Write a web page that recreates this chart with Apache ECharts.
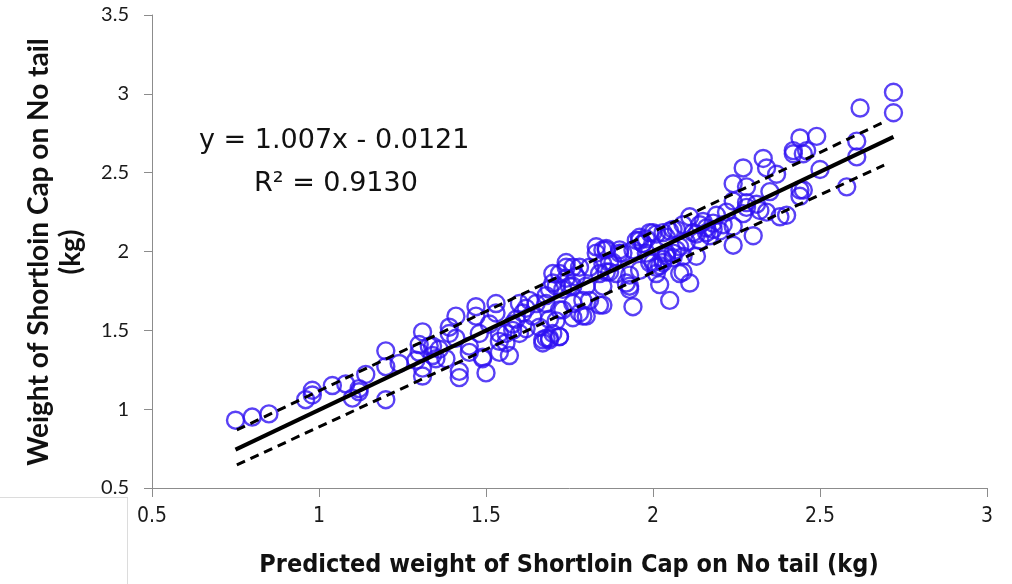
<!DOCTYPE html>
<html>
<head>
<meta charset="utf-8">
<script src="https://cdn.jsdelivr.net/npm/echarts@6/dist/echarts.min.js"></script>
<style>
  html, body { margin: 0; padding: 0; background: #fff; }
  #chart { width: 1012px; height: 584px; }
</style>
</head>
<body>
<div id="chart"></div>
<script>
// Predicted (x) vs measured (y) shortloin cap weight, kg
const predicted = [
  0.75, 0.80, 0.85, 0.96, 0.98, 0.98, 1.04, 1.08, 1.10, 1.12, 1.12, 1.14, 1.20, 1.20, 1.20, 1.24,
  1.31, 1.30, 1.30, 1.34, 1.34, 1.29, 1.31, 1.31, 1.33, 1.36, 1.38, 1.35, 1.39, 1.39, 1.41, 1.41,
  1.42, 1.42, 1.45, 1.45, 1.47, 1.47, 1.48, 1.49, 1.49, 1.50, 1.51, 1.53, 1.53, 1.54, 1.54, 1.54,
  1.56, 1.57, 1.56, 1.58, 1.58, 1.59, 1.60, 1.61, 1.62, 1.63, 1.64, 1.65, 1.66, 1.67, 1.67, 1.60,
  1.62, 1.68, 1.69, 1.69, 1.71, 1.70, 1.71, 1.72, 1.73, 1.74, 1.74, 1.75, 1.76, 1.77, 1.78, 1.79,
  1.81, 1.80, 1.83, 1.83, 1.84, 1.85, 1.85, 1.86, 1.87, 1.88, 1.90, 1.92, 1.93, 1.94, 1.95, 1.96,
  1.97, 1.98, 1.99, 2.00, 2.01, 2.02, 2.03, 2.04, 2.05, 2.06, 2.07, 2.08,
  1.86, 1.74, 1.76, 1.72, 1.70, 1.69, 1.68, 1.73, 1.76, 1.79, 1.78, 1.80, 1.76, 1.72, 1.69, 1.70,
  1.72, 1.68, 1.84, 2.11, 2.09, 1.93, 1.89, 1.93, 1.91, 1.94, 1.96, 1.98, 2.01, 2.03, 2.05, 1.99,
  2.02, 2.04, 2.06, 2.08, 2.10, 2.13, 2.16, 2.18, 2.14, 1.81, 1.85, 1.86,
  2.27, 2.33, 2.34, 2.37, 2.42, 2.45, 2.50, 2.61, 2.24, 2.28, 2.35, 2.24, 2.28, 2.32, 2.34, 2.44,
  2.44, 2.58, 2.38, 2.40, 2.30, 2.24, 2.21, 2.24, 2.19, 2.22, 2.11, 2.15, 2.16, 2.14, 2.13, 2.09,
  2.04, 2.07, 2.09, 2.00, 1.96, 2.01, 1.97, 1.90, 1.87, 1.85, 2.03, 2.06, 2.72, 2.72, 2.62, 2.61,
  2.49, 2.44, 2.42, 2.46, 2.45, 2.28, 2.27, 2.31, 2.20, 2.17, 2.12, 2.18
];
const actual = [
  0.93, 0.95, 0.97, 1.06, 1.09, 1.12, 1.15, 1.16, 1.07, 1.11, 1.13, 1.22, 1.37, 1.27, 1.06, 1.29,
  1.49, 1.41, 1.36, 1.40, 1.34, 1.31, 1.26, 1.21, 1.40, 1.38, 1.32, 1.32, 1.52, 1.48, 1.59, 1.45,
  1.24, 1.20, 1.40, 1.36, 1.65, 1.59, 1.48, 1.33, 1.32, 1.23, 1.54, 1.67, 1.61, 1.36, 1.48, 1.43,
  1.42, 1.34, 1.48, 1.50, 1.54, 1.57, 1.67, 1.61, 1.64, 1.69, 1.59, 1.67, 1.52, 1.42, 1.44, 1.48,
  1.51, 1.67, 1.45, 1.44, 1.56, 1.86, 1.78, 1.46, 1.63, 1.90, 1.83, 1.78, 1.67, 1.84, 1.90, 1.59,
  1.69, 1.78, 2.03, 1.99, 1.86, 1.78, 1.66, 2.02, 1.87, 1.93, 1.99, 1.80, 1.76, 1.65, 2.07, 1.88,
  2.05, 1.99, 2.12, 1.93, 1.86, 1.79, 1.93, 1.97, 1.69, 2.14, 2.01, 1.86,
  2.01, 1.93, 1.90, 1.86, 1.80, 1.76, 1.72, 1.76, 1.78, 1.69, 1.61, 1.59, 1.58, 1.63, 1.57, 1.48,
  1.46, 1.45, 1.66, 1.80, 1.87, 1.78, 1.86, 1.85, 1.99, 2.01, 2.09, 2.08, 2.11, 2.12, 2.13, 1.93,
  1.91, 1.99, 1.99, 2.03, 2.06, 2.11, 2.15, 2.18, 2.17, 1.90, 1.92, 1.87,
  2.53, 2.59, 2.53, 2.49, 2.62, 2.62, 2.52, 2.60, 2.43, 2.41, 2.38, 2.32, 2.31, 2.26, 2.25, 2.39,
  2.35, 2.41, 2.22, 2.23, 2.10, 2.04, 2.17, 2.16, 2.23, 2.25, 2.22, 2.19, 2.12, 2.07, 1.97, 1.97,
  2.09, 2.14, 2.17, 2.12, 2.07, 1.90, 2.05, 2.01, 1.93, 2.01, 1.95, 1.96, 3.01, 2.88, 2.91, 2.70,
  2.73, 2.72, 2.64, 2.64, 2.39, 2.28, 2.24, 2.30, 2.13, 2.10, 2.12, 2.14
];

// Fitted regression y = 1.007x - 0.0121
const slope = 1.007;
const intercept = -0.0121;
const fitRange = [0.75, 2.72];

// Upper and lower dashed bounds (x, y endpoints)
const upperBound = [[0.754, 0.868], [2.685, 2.815]];
const lowerBound = [[0.754, 0.646], [2.692, 2.548]];

const xTicks = [0.5, 1, 1.5, 2, 2.5, 3];
const yTicks = [0.5, 1, 1.5, 2, 2.5, 3, 3.5];

const equationText = 'y = 1.007x - 0.0121';
const r2Text = 'R² = 0.9130';
const xTitle = 'Predicted weight of Shortloin Cap on No tail (kg)';
const yTitleLines = ['Weight of Shortloin Cap on No tail', '(kg)'];

const points = predicted.map((x, i) => [x, actual[i]]);
const fitLine = fitRange.map(x => [x, slope * x + intercept]);

const chart = echarts.init(document.getElementById('chart'), null, { renderer: 'canvas' });

const axisColor = '#8c8c8c';
const labelFont = "Lato, 'Noto Sans', sans-serif";
const narrowFont = "'Liberation Sans Narrow', 'DejaVu Sans Condensed', 'Liberation Sans', sans-serif";
const eqFont = "27px 'DejaVu Sans', sans-serif";

chart.setOption({
  animation: false,
  backgroundColor: '#ffffff',
  grid: { left: 152, right: 25, top: 15, bottom: 96, containLabel: false },
  xAxis: {
    type: 'value',
    min: xTicks[0],
    max: xTicks[xTicks.length - 1],
    interval: 0.5,
    splitLine: { show: false },
    axisLine: { show: true, onZero: false, lineStyle: { color: axisColor, width: 1 } },
    axisTick: { show: true, inside: false, length: 9, lineStyle: { color: axisColor } },
    axisLabel: {
      margin: 18, fontSize: 21, color: '#1a1a1a', fontFamily: narrowFont,
      formatter: v => String(v)
    }
  },
  yAxis: {
    type: 'value',
    min: yTicks[0],
    max: yTicks[yTicks.length - 1],
    interval: 0.5,
    splitLine: { show: false },
    axisLine: { show: true, onZero: false, lineStyle: { color: axisColor, width: 1 } },
    axisTick: { show: true, inside: false, length: 8, lineStyle: { color: axisColor } },
    axisLabel: {
      margin: 23, fontSize: 20, color: '#1a1a1a', fontFamily: labelFont,
      formatter: v => String(v)
    }
  },
  series: [
    {
      type: 'scatter',
      data: points,
      symbol: 'circle',
      symbolSize: 17,
      itemStyle: { color: 'rgba(0,0,0,0)', borderColor: '#2f12f2', borderWidth: 2.4 },
      z: 2
    },
    {
      type: 'line',
      data: fitLine,
      symbol: 'none',
      lineStyle: { color: '#000', width: 4 },
      z: 3
    },
    {
      type: 'line',
      data: upperBound,
      symbol: 'none',
      lineStyle: { color: '#000', width: 3, type: [9, 6] },
      z: 3
    },
    {
      type: 'line',
      data: lowerBound,
      symbol: 'none',
      lineStyle: { color: '#000', width: 3, type: [9, 6] },
      z: 3
    }
  ],
  graphic: [
    {
      type: 'text', x: 199, y: 141,
      style: { text: equationText, font: eqFont, fill: '#111', verticalAlign: 'middle' }
    },
    {
      type: 'text', x: 254, y: 184,
      style: { text: r2Text, font: eqFont, fill: '#111', verticalAlign: 'middle' }
    },
    {
      type: 'text', x: 39, y: 252, rotation: Math.PI / 2,
      style: {
        text: yTitleLines[0], font: "bold 28px Lato, 'Noto Sans', sans-serif", fill: '#111',
        align: 'center', verticalAlign: 'middle'
      }
    },
    {
      type: 'text', x: 71, y: 252, rotation: Math.PI / 2,
      style: {
        text: yTitleLines[1], font: "bold 28px Lato, 'Noto Sans', sans-serif", fill: '#111',
        align: 'center', verticalAlign: 'middle'
      }
    },
    {
      type: 'text', x: 569, y: 565,
      style: {
        text: xTitle, font: "bold 25px " + narrowFont, fill: '#111',
        align: 'center', verticalAlign: 'middle'
      }
    },
    {
      type: 'line', shape: { x1: 0, y1: 497.5, x2: 128, y2: 497.5 },
      style: { stroke: '#dcdcdc', lineWidth: 1 }
    },
    {
      type: 'line', shape: { x1: 127.5, y1: 497, x2: 127.5, y2: 584 },
      style: { stroke: '#dcdcdc', lineWidth: 1 }
    }
  ]
});
</script>
</body>
</html>
